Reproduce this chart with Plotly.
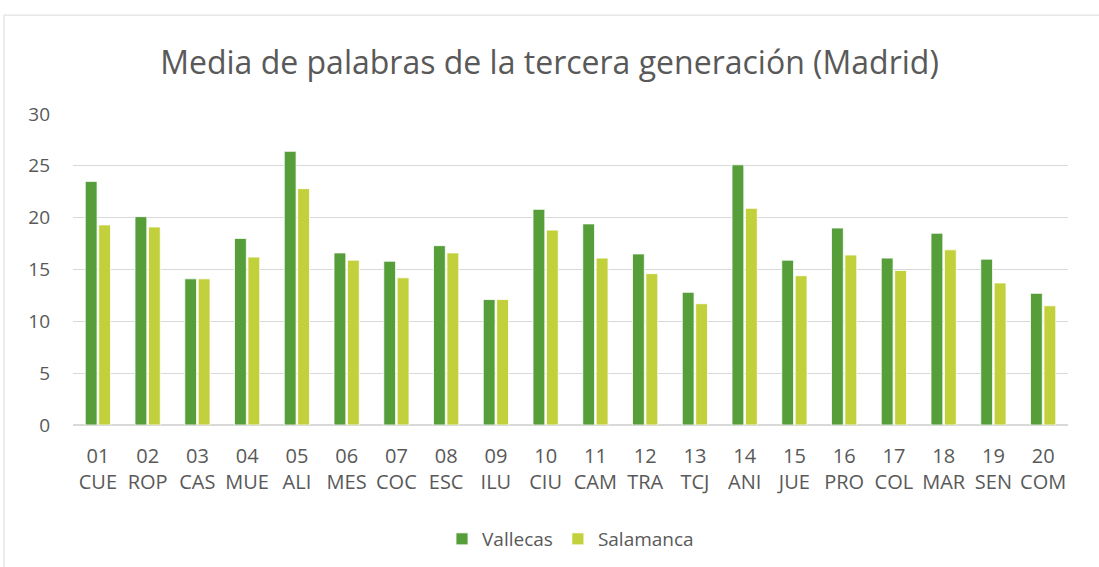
import plotly.graph_objects as go

codes = ["01", "02", "03", "04", "05", "06", "07", "08", "09", "10",
         "11", "12", "13", "14", "15", "16", "17", "18", "19", "20"]
abbr = ["CUE", "ROP", "CAS", "MUE", "ALI", "MES", "COC", "ESC", "ILU", "CIU",
        "CAM", "TRA", "TCJ", "ANI", "JUE", "PRO", "COL", "MAR", "SEN", "COM"]
vallecas = [23.5, 20.1, 14.1, 18.0, 26.4, 16.6, 15.8, 17.3, 12.1, 20.8,
            19.4, 16.5, 12.8, 25.1, 15.9, 19.0, 16.1, 18.5, 16.0, 12.7]
salamanca = [19.3, 19.1, 14.1, 16.2, 22.8, 15.9, 14.2, 16.6, 12.1, 18.8,
             16.1, 14.6, 11.7, 20.9, 14.4, 16.4, 14.9, 16.9, 13.7, 11.5]
yticks = [0, 5, 10, 15, 20, 25, 30]

cats = [f"{c}<br>{a}" for c, a in zip(codes, abbr)]
FONT = "Open Sans"
GRAY = "#595959"

fig = go.Figure()
fig.add_trace(go.Bar(name="Vallecas", x=cats, y=vallecas,
                     marker=dict(color="#559E3A", line=dict(color="#FFFFFF", width=0.8))))
fig.add_trace(go.Bar(name="Salamanca", x=cats, y=salamanca,
                     marker=dict(color="#C2D03C", line=dict(color="#FFFFFF", width=0.8))))

fig.update_layout(
    width=1099, height=567,
    margin=dict(l=73, r=31, t=114, b=142, autoexpand=False),
    paper_bgcolor="white", plot_bgcolor="white",
    barmode="group", bargap=0.46, bargroupgap=0.12,
    title=dict(text="Media de palabras de la tercera generación (Madrid)",
               x=0.5, xanchor="center", y=1 - 63/567, yref="container", yanchor="middle",
               font=dict(family=FONT, size=32, color=GRAY)),
    font=dict(family=FONT, color=GRAY),
    xaxis=dict(tickfont=dict(family=FONT, size=20, color=GRAY), showgrid=False,
               showline=True, linecolor="#D9D9D9", linewidth=1, ticks="",
               ticklabelstandoff=13),
    yaxis=dict(range=[0, 30], tickvals=yticks, tickfont=dict(family=FONT, size=19, color=GRAY),
               showgrid=True, gridcolor="#D9D9D9", gridwidth=1, zeroline=True,
               zerolinecolor="#D9D9D9", showline=False, ticks="", ticklen=0,
               ticklabelstandoff=22),
    legend=dict(orientation="h", x=0.5, xanchor="center", y=(425 - 539) / 311, yanchor="middle",
                font=dict(family=FONT, size=19, color=GRAY), itemwidth=30),
    shapes=[
        dict(type="line", xref="paper", yref="paper", x0=-0.0693, x1=-0.0693, y0=-0.5, y1=1.318,
             line=dict(color="#D9D9D9", width=1)),
        dict(type="line", xref="paper", yref="paper", x0=-0.0693, x1=1.04, y0=1.318, y1=1.318,
             line=dict(color="#D9D9D9", width=1)),
    ],
)

fig.write_html("out.html", config={"displayModeBar": False},
               post_script="document.body.style.margin='0';")
